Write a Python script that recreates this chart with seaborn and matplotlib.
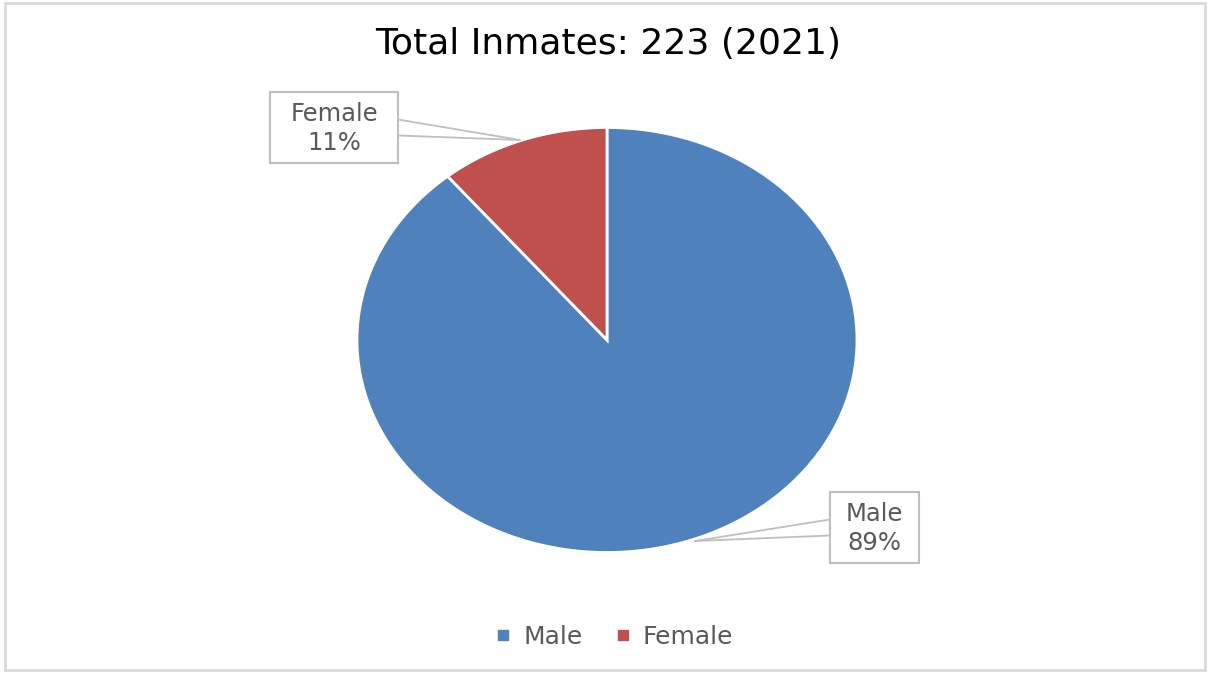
import matplotlib
matplotlib.use("Agg")
import matplotlib.pyplot as plt
from matplotlib.lines import Line2D
from matplotlib.patches import Rectangle
import seaborn as sns

categories = ["Male", "Female"]
shares = [89, 11]
pct_labels = ["89%", "11%"]
title = "Total Inmates: 223 (2021)"

sns.set_theme(style="white")
plt.rcParams['font.family'] = ['DejaVu Sans']

colors = ["#4F81BD", "#C0504D"]
W, H = 1210, 675
fig = plt.figure(figsize=(12.1, 6.75), dpi=100)

# outer border
fig.patches.append(Rectangle((5 / W, 1 - 670 / H), 1200 / W, 667 / H, transform=fig.transFigure,
                             fill=False, edgecolor="#D9D9D9", linewidth=2))

cx, cy, rx, ry = 607, 340, 250, 212.5
ax = fig.add_axes([(cx - rx) / W, 1 - (cy + ry) / H, 2 * rx / W, 2 * ry / H])
wedges, _ = ax.pie(shares, colors=colors, startangle=90, counterclock=False,
                   wedgeprops=dict(edgecolor="white", linewidth=2))
ax.set_aspect("auto")
ax.set_xlim(-1, 1)
ax.set_ylim(-1, 1)
ax.axis("off")

def px(x, y):
    return (x / W, 1 - y / H)

fig.text(*px(608, 44), title, ha="center", va="center", fontsize=26, color="#000000")

# callout boxes: (box left, top, right, bottom, target point, side)
boxes = {
    "Female": (270, 92, 398, 163, (520, 140), "right"),
    "Male": (830, 492, 919, 563, (695, 541), "left"),
}
for i, cat in enumerate(categories):
    l, t, r, b, (tx, ty), side = boxes[cat]
    fig.patches.append(Rectangle(px(l, b), (r - l) / W, (b - t) / H, transform=fig.transFigure,
                                 facecolor="white", edgecolor="#BFBFBF", linewidth=1.5, zorder=5))
    ex = r if side == "right" else l
    mid = (t + b) / 2
    for ey in (mid - 8, mid + 8):
        fig.add_artist(Line2D([ex / W, tx / W], [1 - ey / H, 1 - ty / H], transform=fig.transFigure,
                              color="#BFBFBF", linewidth=1.3, zorder=4))
    fig.text(*px((l + r) / 2, (t + b) / 2 + 1), f"{cat}\n{pct_labels[i]}", ha="center", va="center",
             fontsize=17.5, color="#595959", linespacing=1.22, zorder=6)

handles = [Line2D([], [], marker="s", linestyle="none", markersize=7.5, color=c) for c in colors]
fig.legend(handles, categories, loc="center", bbox_to_anchor=px(612, 637), ncol=2, frameon=False,
           fontsize=18, labelcolor="#595959", handletextpad=0.3, columnspacing=1.1, handlelength=1)

fig.savefig("out.png", dpi=100)
